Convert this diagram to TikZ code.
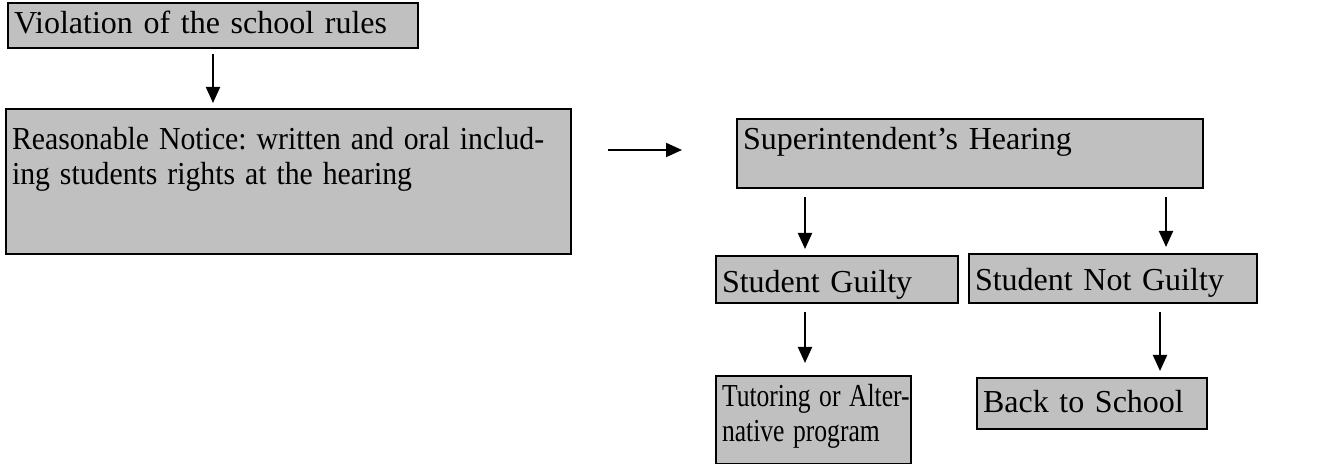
\documentclass[tikz,border=0pt]{standalone}
\usepackage{fontspec}
\setmainfont{Liberation Serif}
\usetikzlibrary{arrows.meta,calc}
\definecolor{boxgray}{RGB}{192,192,192}
\newcommand\squeezed[2]{\scalebox{#1}[1]{\begin{tabular}[t]{@{}l@{}}#2\end{tabular}}}
\begin{document}
\frenchspacing
\begin{tikzpicture}[x=0.5pt,y=-0.5pt,
  bx/.style={draw=black, line width=1pt, fill=boxgray, anchor=north west,
    align=left, inner xsep=3pt, inner ysep=0pt,
    font=\fontsize{16pt}{17.5pt}\selectfont\frenchspacing, text height=15.5pt},
  arr/.style={line width=1pt, -{Triangle[length=8pt,width=7pt]},
    shorten <=4pt, shorten >=3pt}]
\useasboundingbox (0,0) rectangle (1338,464);

% boxes: position = top-left corner in pixels
\node[bx, text width=199pt, text depth=7pt] (b1) at (7,2) {Violation of the school rules};
\node[bx, text width=276.5pt, text height=20.5pt, text depth=52pt] (b2) at (5,108)
  {\squeezed{0.93}{Reasonable Notice: written and oral includ-\\ing students rights at the hearing}};
\node[bx, text width=227pt, text depth=19pt] (b3) at (736,118) {Superintendent’s Hearing};
\node[bx, text width=115pt, text height=18.5pt, text depth=5pt] (b4) at (715,255) {Student Guilty};
\node[bx, text width=138pt, text height=18.5pt, text depth=6pt] (b5) at (968,253) {Student Not Guilty};
\node[bx, text width=91.5pt, text depth=28.5pt] (b6) at (715,375)
  {\squeezed{0.8}{Tutoring or Alter-\\native program}};
\node[bx, text width=109pt, text height=17.5pt, text depth=8pt] (b7) at (976,377) {Back to School};

% connectors
\coordinate (c1) at ($(b1.south west)+(206,0)$);
\draw[arr, shorten <=2.5pt, shorten >=2.5pt] (c1) -- (c1 |- b2.north);
\coordinate (c2) at ($(b2.north east)+(0,42)$);
\draw[arr, shorten <=18pt, shorten >=27pt] (c2) -- (c2 -| b3.west);
\coordinate (c3) at ($(b3.south west)+(69,0)$);
\coordinate (c4) at ($(b3.south east)+(-38,0)$);
\coordinate (c5) at ($(b4.south west)+(90,0)$);
\coordinate (c6) at ($(b5.south west)+(192,0)$);
\draw[arr] (c3) -- (c3 |- b4.north);
\draw[arr] (c4) -- (c4 |- b5.north);
\draw[arr, shorten >=6pt] (c5) -- (c5 |- b6.north);
\draw[arr] (c6) -- (c6 |- b7.north);
\end{tikzpicture}
\end{document}
